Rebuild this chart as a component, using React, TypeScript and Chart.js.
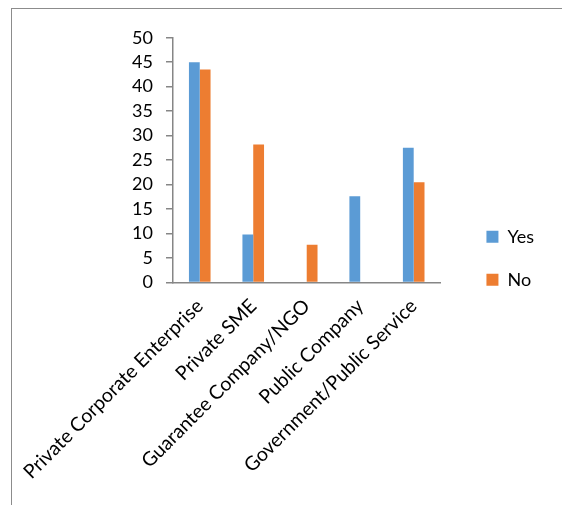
import React, { useEffect, useRef } from "react";
import { Chart, registerables } from "chart.js";

Chart.register(...registerables);

const categories = [
  "Private Corporate Enterprise",
  "Private SME",
  "Guarantee Company/NGO",
  "Public Company",
  "Government/Public Service",
];
const yesValues = [45, 9.8, 0, 17.6, 27.5];
const noValues = [43.5, 28.2, 7.7, 0, 20.5];
const yTicks = [0, 5, 10, 15, 20, 25, 30, 35, 40, 45, 50];

const FONT = "Lato";
const AXIS = "#868686";

export default function App() {
  const ref = useRef<HTMLCanvasElement | null>(null);

  useEffect(() => {
    if (!ref.current) return;
    const chart = new Chart(ref.current, {
      type: "bar",
      data: {
        labels: categories,
        datasets: [
          { label: "Yes", data: yesValues, backgroundColor: "#5B9BD5", categoryPercentage: 0.404, barPercentage: 1 },
          { label: "No", data: noValues, backgroundColor: "#ED7D31", categoryPercentage: 0.404, barPercentage: 1 },
        ],
      },
      options: {
        animation: false,
        responsive: false,
        maintainAspectRatio: false,
        layout: { padding: { top: 28.7, left: 0, right: 18, bottom: 26 } },
        scales: {
          x: {
            grid: { display: false },
            border: { display: true, color: AXIS, width: 1.5 },
            ticks: {
              color: "#000",
              font: { family: FONT, size: 19.5 },
              minRotation: 45,
              maxRotation: 45,
              autoSkip: false,
              padding: 4,
              labelOffset: 0,
            },
            afterFit: (s: any) => {
              s.height = 196.5;
              s.paddingLeft = 0;
              s.paddingRight = 0;
            },
          },
          y: {
            min: 0,
            max: 50,
            afterBuildTicks: (s: any) => {
              s.ticks = yTicks.map((v) => ({ value: v }));
            },
            grid: { drawOnChartArea: false, drawTicks: true, tickLength: 7, color: AXIS, lineWidth: 1.5 },
            border: { display: true, color: AXIS, width: 1.5 },
            ticks: {
              color: "#000",
              font: { family: FONT, size: 18 },
              padding: 13,
              autoSkip: false,
            },
            afterFit: (s: any) => {
              s.width = 161;
            },
          },
          spacer: {
            type: "linear",
            position: "right",
            display: true,
            grid: { display: false },
            ticks: { display: false },
            border: { display: false },
            afterFit: (s: any) => {
              s.width = 21;
            },
          },
        },
        plugins: {
          legend: {
            position: "right",
            labels: {
              boxWidth: 12,
              boxHeight: 12,
              padding: 25,
              color: "#000",
              font: { family: FONT, size: 18 },
            },
          },
          tooltip: { enabled: false },
        },
      } as any,
    });
    return () => chart.destroy();
  }, []);

  return (
    <div
      style={{
        position: "fixed",
        left: 11,
        top: 8,
        width: 551,
        height: 497,
        boxSizing: "border-box",
        borderTop: "1px solid #8c8c8c",
        borderLeft: "1px solid #8c8c8c",
        background: "#fff",
      }}
    >
      <canvas ref={ref} width={550} height={496} style={{ display: "block", width: 550, height: 496 }} />
    </div>
  );
}
